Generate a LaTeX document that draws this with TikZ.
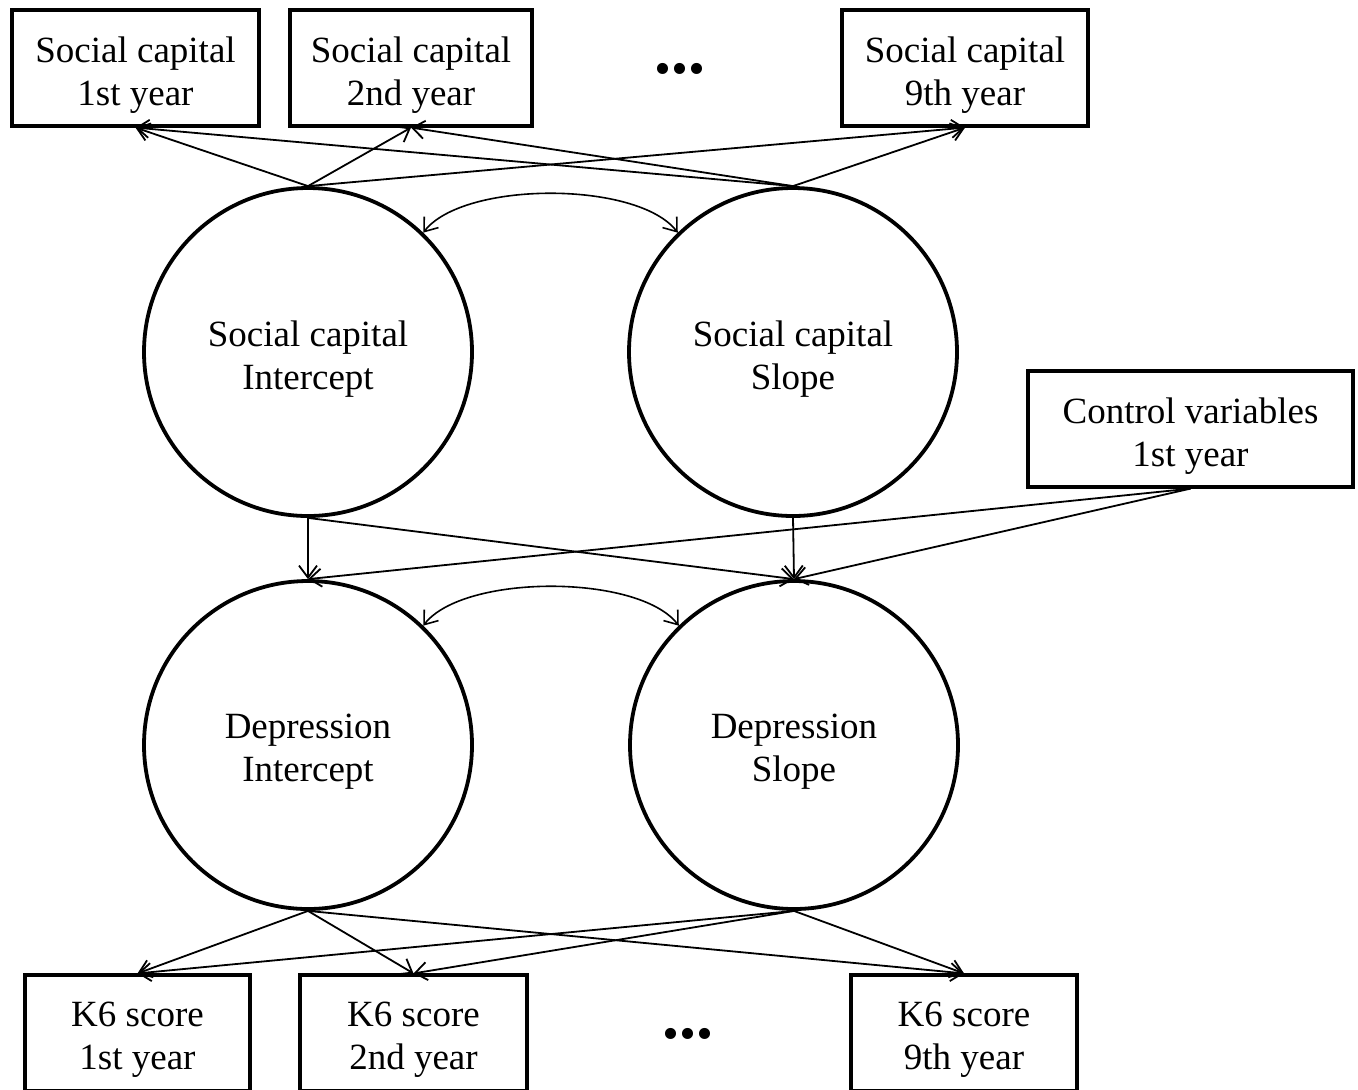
\documentclass[tikz,border=0pt]{standalone}
\usepackage{fontspec}
\setmainfont{Liberation Serif}
\usetikzlibrary{arrows.meta}
\begin{document}
\begin{tikzpicture}[x=0.5pt,y=-0.5pt,
  txt/.style={label={[align=center, inner sep=0pt, yshift=-3.5pt, font=\fontsize{18.5}{21.5}\selectfont]center:#1}},
  box/.style={draw, line width=1.6pt, minimum width=#1, minimum height=58pt, inner sep=0pt},
  latent/.style={draw, circle, line width=1.9pt, minimum size=164pt, inner sep=0pt},
  dotsnode/.style={anchor=base, inner sep=0pt, font=\fontsize{34}{34}\selectfont\bfseries},
  conn/.style={line width=0.9pt, -{Straight Barb[length=6pt,width=9pt]}},
  cov/.style={line width=0.8pt, {Straight Barb[length=6pt,width=9pt]}-{Straight Barb[length=6pt,width=9pt]}}
]
\useasboundingbox (0,0) rectangle (1358,1089);
% top boxes
\node[box=123.5pt, txt={Social capital\\1st year}] (sc1) at (135.5,68) {};
\node[box=121pt, txt={Social capital\\2nd year}] (sc2) at (411,68) {};
\node[box=123pt, txt={Social capital\\9th year}] (sc9) at (965,68) {};
\node[dotsnode] (dtop) at (680,73) {...};
% latent factors
\node[latent, txt={Social capital\\Intercept}] (sci) at (308,352) {};
\node[latent, txt={Social capital\\Slope}] (scs) at (793,352) {};
\node[latent, txt={Depression\\Intercept}] (di) at (308,745) {};
\node[latent, txt={Depression\\Slope}] (ds) at (794,745) {};
% control
\node[box=162.5pt, txt={Control variables\\1st year}] (ctrl) at (1190.5,429) {};
% bottom boxes
\node[box=112.5pt, txt={K6 score\\1st year}] (k1) at (137.5,1033) {};
\node[box=113.5pt, txt={K6 score\\2nd year}] (k2) at (413.5,1033) {};
\node[box=113pt, txt={K6 score\\9th year}] (k9) at (964,1033) {};
\node[dotsnode] (dbot) at (688,1038) {...};
% loadings social capital
\foreach \s in {sci,scs}{
  \foreach \t in {sc1,sc2,sc9}{
    \draw[conn] (\s.north) -- (\t.south);
  }
}
% covariances
\draw[cov] (sci.46) .. controls +(40,-52) and +(-40,-52) .. (scs.134);
\draw[cov] (di.46) .. controls +(40,-52) and +(-40,-52) .. (ds.134);
% structural paths
\draw[conn] (sci.south) -- (di.north);
\draw[conn] (sci.south) -- (ds.north);
\draw[conn] (scs.south) -- (ds.north);
\draw[conn] (ctrl.south) -- (di.north);
\draw[conn] (ctrl.south) -- (ds.north);
% loadings depression
\foreach \s in {di,ds}{
  \foreach \t in {k1,k2,k9}{
    \draw[conn] (\s.south) -- (\t.north);
  }
}
\end{tikzpicture}
\end{document}
